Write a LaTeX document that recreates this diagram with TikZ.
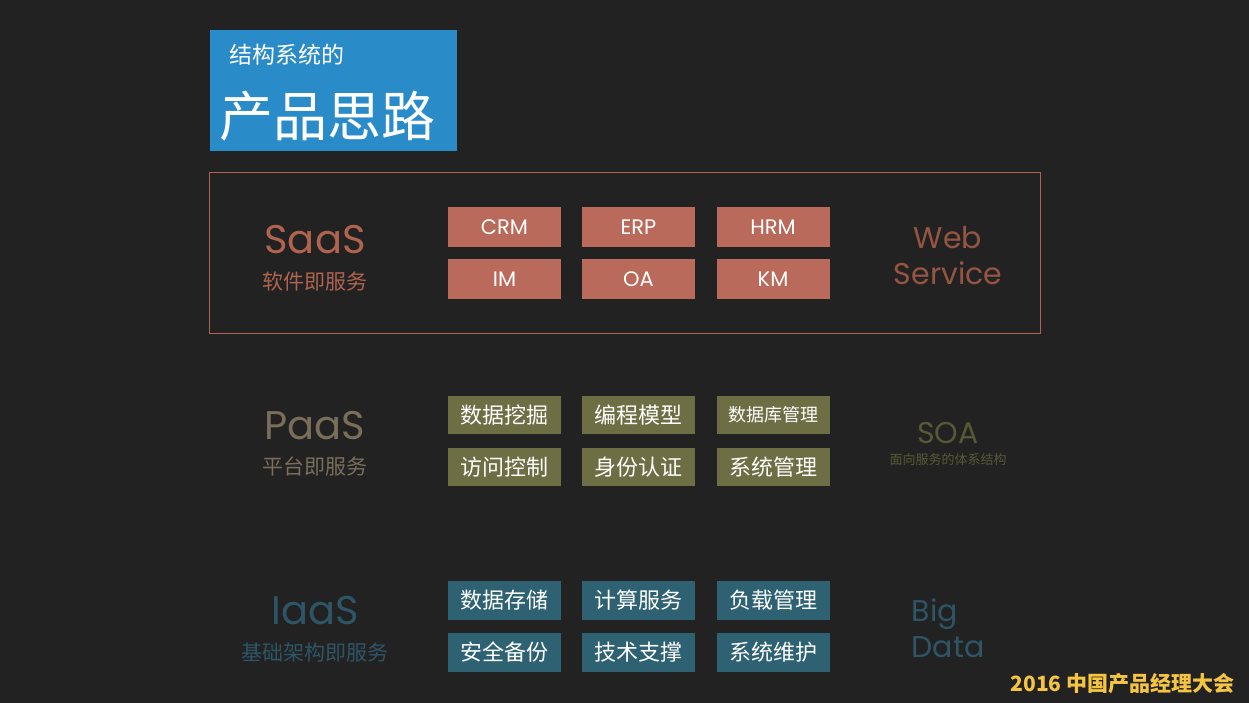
\documentclass[tikz,border=0pt]{standalone}
\usepackage{fontspec}
\setmainfont{Noto Sans CJK SC}
\newfontfamily\latinfont{Poppins}
\usetikzlibrary{positioning}
\definecolor{bgdark}{HTML}{222222}
\definecolor{titleblue}{HTML}{2A8BC9}
\definecolor{saasred}{HTML}{B96A5A}
\definecolor{saasline}{HTML}{B0644F}
\definecolor{paasolive}{HTML}{6E6E44}
\definecolor{paastext}{HTML}{7A6E5A}
\definecolor{iaasteal}{HTML}{2E6272}
\definecolor{iaastext}{HTML}{2E5566}
\definecolor{brandyellow}{HTML}{F5C542}
\begin{document}
\begin{tikzpicture}[
  x=1pt, y=-1pt,
  cell/.style  = {minimum width=113pt, minimum height=40pt, inner sep=0pt, text=white, font=\fontsize{22}{24}\selectfont},
  lcell/.style = {cell, font=\latinfont\fontsize{21}{24}\selectfont},
  big/.style   = {font=\latinfont\fontsize{40}{42}\selectfont},
  sub/.style   = {font=\fontsize{21}{23}\selectfont},
  side/.style  = {font=\latinfont\fontsize{30}{36}\selectfont, align=center}
]

% Background
\fill[bgdark] (0,0) rectangle (1249,703);

% Title
\node[fill=titleblue, minimum width=247pt, minimum height=121pt, anchor=north west] (title) at (210,30) {};
\node[text=white, font=\fontsize{23}{25}\selectfont, anchor=west] (titlea) at (226,55) {结构系统的};
\node[text=white, font=\fontsize{54}{56}\selectfont, anchor=west] (titleb) at (216,116) {产品思路};

% SaaS layer
\draw[saasline, line width=1pt] (209,173) rectangle (1040,333);
\node[big, text=saasline] (saas) at (315,240) {SaaS};
\node[sub, text=saasline] (saassub) at (315,282) {软件即服务};
\node[lcell, fill=saasred] (crm) at (504.5,227) {CRM};
\node[lcell, fill=saasred] (erp) at (638.5,227) {ERP};
\node[lcell, fill=saasred] (hrm) at (773,227) {HRM};
\node[lcell, fill=saasred] (im) at (504.5,279) {IM};
\node[lcell, fill=saasred] (oa) at (638.5,279) {OA};
\node[lcell, fill=saasred] (km) at (773,279) {KM};
\node[side, text=saasline!85!black] (web) at (948,256) {Web\\Service};

% PaaS layer
\node[big, text=paastext] (paas) at (315,426) {PaaS};
\node[sub, text=paastext] (paassub) at (315,466) {平台即服务};
\node[cell, fill=paasolive, minimum height=38pt] (mining) at (504.5,415) {数据挖掘};
\node[cell, fill=paasolive, minimum height=38pt] (model) at (638.5,415) {编程模型};
\node[cell, fill=paasolive, minimum height=38pt, font=\fontsize{18}{20}\selectfont] (dbm) at (773,415) {数据库管理};
\node[cell, fill=paasolive, minimum height=38pt] (access) at (504.5,467) {访问控制};
\node[cell, fill=paasolive, minimum height=38pt] (auth) at (638.5,467) {身份认证};
\node[cell, fill=paasolive, minimum height=38pt] (sysm) at (773,467) {系统管理};
\node[font=\latinfont\fontsize{30}{33}\selectfont, text=paasolive!80!black] (soa) at (948,433) {SOA};
\node[font=\fontsize{13}{15}\selectfont, text=paasolive!80!black] (soasub) at (948,460) {面向服务的体系结构};

% IaaS layer
\node[big, text=iaastext] (iaas) at (315,611) {IaaS};
\node[sub, text=iaastext] (iaassub) at (315,653) {基础架构即服务};
\node[cell, fill=iaasteal, minimum height=39pt] (store) at (504.5,600) {数据存储};
\node[cell, fill=iaasteal, minimum height=39pt] (compute) at (638.5,600) {计算服务};
\node[cell, fill=iaasteal, minimum height=39pt] (load) at (773,600) {负载管理};
\node[cell, fill=iaasteal, minimum height=39pt] (backup) at (504.5,652) {安全备份};
\node[cell, fill=iaasteal, minimum height=39pt] (support) at (638.5,652) {技术支撑};
\node[cell, fill=iaasteal, minimum height=39pt] (maint) at (773,652) {系统维护};
\node[side, text=iaastext, align=left] (bigdata) at (948,628) {Big\\Data};

% Footer
\node[text=brandyellow, font=\bfseries\fontsize{21}{23}\selectfont, anchor=east] (footer) at (1238,684) {2016 中国产品经理大会};

\end{tikzpicture}
\end{document}
